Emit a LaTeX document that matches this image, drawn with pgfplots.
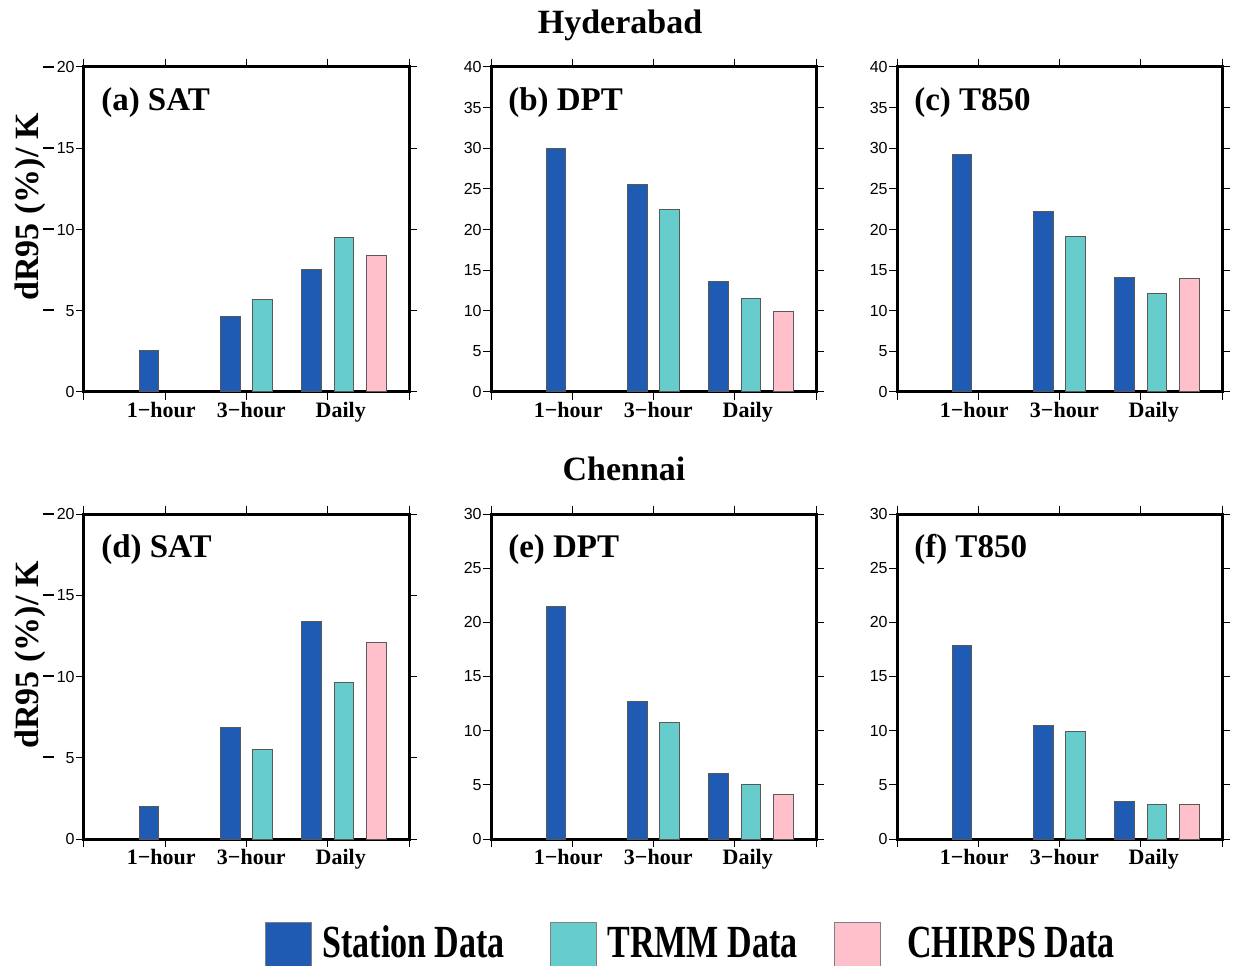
\documentclass[border=0pt]{standalone}
\usepackage{fontspec}
\setmainfont{Liberation Serif}
\newfontfamily\sansf{Liberation Sans}
\usepackage{pgfplots}
\pgfplotsset{compat=1.18}
\definecolor{stblue}{RGB}{31,91,179}
\definecolor{trmm}{RGB}{102,204,204}
\definecolor{chirps}{RGB}{255,192,203}
\newcommand{\dsh}{\rlap{\raisebox{2.4pt}{\rule{5.5pt}{1pt}}}}
\newcommand{\dl}[1]{\makebox[16pt][r]{\dsh\hfill #1}}
\pgfplotsset{
  panel/.style={
    scale only axis, width=162.5pt, height=162.5pt,
    xmin=0, xmax=4, ymin=0,
    xtick={0,1,2,3,4},
    xticklabels={},
    extra x ticks={0.95,2.06,3.16},
    extra x tick labels={1−hour,3−hour,Daily},
    extra x tick style={major tick length=0pt, tick style={draw=none}},
    ytick distance=5,
    axis line style={line width=1.5pt},
    tick style={line width=0.5pt, black},
    tick align=outside,
    major tick length=4pt,
    minor tick num=0,
    xticklabel style={font=\bfseries\fontsize{11}{12}\selectfont, inner sep=1pt, yshift=-4pt},
    yticklabel style={font=\sansf\fontsize{8}{9}\selectfont, inner sep=0.5pt},
    /pgf/number format/assume math mode=true,
    clip=false,
  },
  dashlab/.style={
    ytick={0,5,10,15,20},
    yticklabels={\makebox[16pt][r]{0},\dl{5},\dl{10},\dl{15},\dl{20}},
  },
  stbar/.style={ybar, bar width=0.245, bar shift=0pt, fill=stblue, draw=black!65, line width=0.5pt},
  trbar/.style={ybar, bar width=0.245, bar shift=0pt, fill=trmm, draw=black!65, line width=0.5pt},
  chbar/.style={ybar, bar width=0.245, bar shift=0pt, fill=chirps, draw=black!65, line width=0.5pt},
}
\newcommand{\plab}[1]{\node[anchor=base west, inner sep=0pt, font=\bfseries\fontsize{16.5}{18}\selectfont] at (rel axis cs:0.052,0.865) {#1};}
\begin{document}
\begin{tikzpicture}
\useasboundingbox (0,0) rectangle (619pt,482.5pt);
% titles
\node[anchor=base, inner sep=0pt, font=\bfseries\fontsize{17}{19}\selectfont] at (310pt,465.5pt) {Hyderabad};
\node[anchor=base, inner sep=0pt, font=\bfseries\fontsize{17}{19}\selectfont] at (312pt,242pt) {Chennai};
% y labels
\node[rotate=90, inner sep=0pt, font=\bfseries\fontsize{17}{19}\selectfont] at (15pt,379pt) {dR95 (\%)/ K};
\node[rotate=90, inner sep=0pt, font=\bfseries\fontsize{17}{19}\selectfont] at (15pt,155pt) {dR95 (\%)/ K};

% (a)
\begin{axis}[panel, dashlab, ymax=20, at={(42pt,286.5pt)}, anchor=south west]
\addplot[stbar] coordinates {(0.8,2.53) (1.8,4.67) (2.8,7.52)};
\addplot[trbar] coordinates {(2.2,5.69) (3.2,9.50)};
\addplot[chbar] coordinates {(3.6,8.39)};
\plab{(a) SAT}
\end{axis}
% (b)
\begin{axis}[panel, ymax=40, at={(245.5pt,286.5pt)}, anchor=south west]
\addplot[stbar] coordinates {(0.8,29.97) (1.8,25.5) (2.8,13.6)};
\addplot[trbar] coordinates {(2.2,22.5) (3.2,11.55)};
\addplot[chbar] coordinates {(3.6,9.9)};
\plab{(b) DPT}
\end{axis}
% (c)
\begin{axis}[panel, ymax=40, at={(448.5pt,286.5pt)}, anchor=south west]
\addplot[stbar] coordinates {(0.8,29.23) (1.8,22.16) (2.8,14.06)};
\addplot[trbar] coordinates {(2.2,19.1) (3.2,12.09)};
\addplot[chbar] coordinates {(3.6,13.94)};
\plab{(c) T850}
\end{axis}
% (d)
\begin{axis}[panel, dashlab, ymax=20, at={(42pt,63pt)}, anchor=south west]
\addplot[stbar] coordinates {(0.8,2.01) (1.8,6.84) (2.8,13.36)};
\addplot[trbar] coordinates {(2.2,5.51) (3.2,9.64)};
\addplot[chbar] coordinates {(3.6,12.09)};
\plab{(d) SAT}
\end{axis}
% (e)
\begin{axis}[panel, ymax=30, at={(245.5pt,63pt)}, anchor=south west]
\addplot[stbar] coordinates {(0.8,21.46) (1.8,12.7) (2.8,6.04)};
\addplot[trbar] coordinates {(2.2,10.79) (3.2,5.03)};
\addplot[chbar] coordinates {(3.6,4.07)};
\plab{(e) DPT}
\end{axis}
% (f)
\begin{axis}[panel, ymax=30, at={(448.5pt,63pt)}, anchor=south west]
\addplot[stbar] coordinates {(0.8,17.85) (1.8,10.46) (2.8,3.42)};
\addplot[trbar] coordinates {(2.2,9.9) (3.2,3.14)};
\addplot[chbar] coordinates {(3.6,3.14)};
\plab{(f) T850}
\end{axis}

% legend
\fill[stblue, draw=black!50, line width=0.5pt] (132.5pt,21.5pt) rectangle (155.5pt,-10pt);
\fill[trmm, draw=black!50, line width=0.5pt] (275pt,21.5pt) rectangle (298pt,-10pt);
\fill[chirps, draw=black!50, line width=0.5pt] (417pt,21.5pt) rectangle (440pt,-10pt);
\node[anchor=base west, inner sep=0pt, font=\bfseries\fontsize{23}{26}\selectfont] at (161pt,4pt) {\scalebox{0.74}[1]{Station Data}};
\node[anchor=base west, inner sep=0pt, font=\bfseries\fontsize{23}{26}\selectfont] at (303.5pt,4pt) {\scalebox{0.74}[1]{TRMM Data}};
\node[anchor=base west, inner sep=0pt, font=\bfseries\fontsize{23}{26}\selectfont] at (453.5pt,4pt) {\scalebox{0.74}[1]{CHIRPS Data}};
\end{tikzpicture}
\end{document}
